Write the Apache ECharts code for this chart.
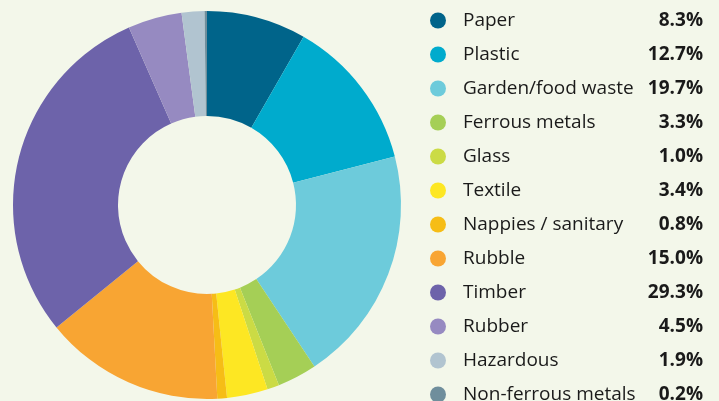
<!DOCTYPE html>
<html>
<head>
<meta charset="utf-8">
<title>Waste composition</title>
<script src="https://cdn.jsdelivr.net/npm/echarts@6/dist/echarts.min.js"></script>
<style>
  html, body { margin: 0; padding: 0; background: #f3f7ea; }
</style>
</head>
<body>
<div id="main" style="width: 719px;height:401px;"></div>
<script>
  // data
  var categories = ['Paper', 'Plastic', 'Garden/food waste', 'Ferrous metals', 'Glass', 'Textile',
    'Nappies / sanitary', 'Rubble', 'Timber', 'Rubber', 'Hazardous', 'Non-ferrous metals'];
  var shares = [8.3, 12.7, 19.7, 3.3, 1.0, 3.4, 0.8, 15.0, 29.3, 4.5, 1.9, 0.2];
  var colours = ['#00648a', '#00abcd', '#6dcbdb', '#a5cf56', '#cbdb45', '#fde723',
    '#f6bd16', '#f8a533', '#6d63aa', '#968ac1', '#b1c4d0', '#6f8e9c'];

  var myChart = echarts.init(document.getElementById('main'));

  var pieData = categories.map(function (name, i) {
    return { name: name, value: shares[i], itemStyle: { color: colours[i] } };
  });

  var option = {
    backgroundColor: '#f3f7ea',
    animation: false,
    legend: {
      orient: 'vertical',
      left: 430,
      top: 11,
      height: 430,
      padding: 0,
      itemWidth: 16,
      itemHeight: 16,
      itemGap: 15,
      icon: 'circle',
      selectedMode: false,
      formatter: function (name) {
        var i = categories.indexOf(name);
        return '{a|' + name + '}{b|' + shares[i].toFixed(1) + '%}';
      },
      textStyle: {
        rich: {
          a: { fontFamily: 'Open Sans', fontSize: 19, color: '#1a1a1a', width: 175, padding: [0, 0, 0, 12] },
          b: { fontFamily: 'Open Sans', fontSize: 19, fontWeight: 'bold', color: '#1a1a1a', width: 65, align: 'right' }
        }
      }
    },
    series: [{
      type: 'pie',
      center: [207, 205],
      radius: [89, 194],
      startAngle: 90,
      clockwise: true,
      label: { show: false },
      labelLine: { show: false },
      emphasis: { disabled: true },
      data: pieData
    }]
  };

  myChart.setOption(option);
</script>
</body>
</html>
